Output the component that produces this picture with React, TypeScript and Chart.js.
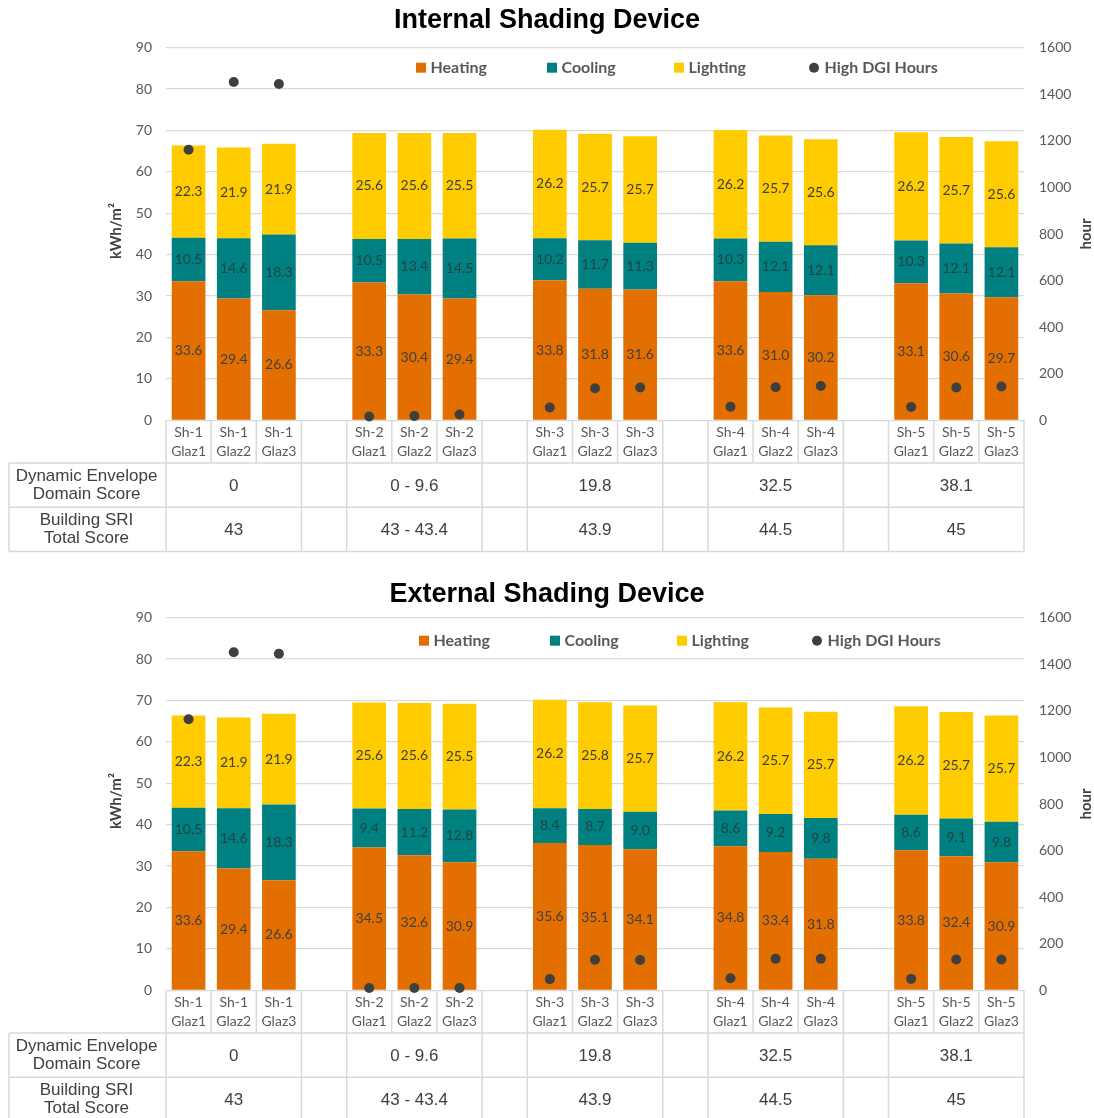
import React, { useEffect, useRef } from 'react';
import { Chart, registerables } from 'chart.js';

Chart.register(...registerables);

// ---------------- data ----------------
const shadings = ['Sh-1', 'Sh-2', 'Sh-3', 'Sh-4', 'Sh-5'];
const glazings = ['Glaz1', 'Glaz2', 'Glaz3'];
const seriesNames = ['Heating', 'Cooling', 'Lighting', 'High DGI Hours'];

const internalHeating = [33.6, 29.4, 26.6, 33.3, 30.4, 29.4, 33.8, 31.8, 31.6, 33.6, 31.0, 30.2, 33.1, 30.6, 29.7];
const internalCooling = [10.5, 14.6, 18.3, 10.5, 13.4, 14.5, 10.2, 11.7, 11.3, 10.3, 12.1, 12.1, 10.3, 12.1, 12.1];
const internalLighting = [22.3, 21.9, 21.9, 25.6, 25.6, 25.5, 26.2, 25.7, 25.7, 26.2, 25.7, 25.6, 26.2, 25.7, 25.6];
const internalDgiHours = [1162, 1453, 1444, 16, 19, 25, 55, 138, 141, 58, 142, 147, 57, 141, 145];

const externalHeating = [33.6, 29.4, 26.6, 34.5, 32.6, 30.9, 35.6, 35.1, 34.1, 34.8, 33.4, 31.8, 33.8, 32.4, 30.9];
const externalCooling = [10.5, 14.6, 18.3, 9.4, 11.2, 12.8, 8.4, 8.7, 9.0, 8.6, 9.2, 9.8, 8.6, 9.1, 9.8];
const externalLighting = [22.3, 21.9, 21.9, 25.6, 25.6, 25.5, 26.2, 25.8, 25.7, 26.2, 25.7, 25.7, 26.2, 25.7, 25.7];
const externalDgiHours = [1164, 1452, 1445, 10, 10, 10, 48, 131, 130, 52, 135, 135, 49, 132, 132];

const envelopeScores = ['0', '0 - 9.6', '19.8', '32.5', '38.1'];
const sriScores = ['43', '43 - 43.4', '43.9', '44.5', '45'];
const tableRowLabels = [
  ['Dynamic Envelope', 'Domain Score'],
  ['Building SRI', 'Total Score'],
];

const leftAxis = { title: 'kWh/m²', min: 0, max: 90, step: 10 };
const rightAxis = { title: 'hour', min: 0, max: 1600, step: 200 };

// ---------------- helpers ----------------
const labels: (string[] | string)[] = [];
shadings.forEach((s, g) => {
  glazings.forEach((gl) => labels.push([s, gl]));
  if (g < shadings.length - 1) labels.push('');
});

function withGaps(values: number[]): (number | null)[] {
  const out: (number | null)[] = [];
  values.forEach((v, i) => {
    out.push(v);
    if (i % 3 === 2 && i < values.length - 1) out.push(null);
  });
  return out;
}

const COLORS = {
  heating: '#E36F00',
  cooling: '#008080',
  lighting: '#FFCC00',
  dgi: '#3F3F3F',
  grid: '#D9D9D9',
  text: '#595959',
  dark: '#404040',
};
const UI_FONT = 'Lato, "Noto Sans", sans-serif';
const TABLE_FONT = '"Liberation Sans", Arial, sans-serif';

type PanelProps = {
  title: string;
  heating: number[];
  cooling: number[];
  lighting: number[];
  dgi: number[];
  legendDx: number;
  legendDy: number;
  titleTop: number;
};

function Panel({ title, heating, cooling, lighting, dgi, legendDx, legendDy, titleTop }: PanelProps) {
  const ref = useRef<HTMLCanvasElement>(null);

  useEffect(() => {
    const canvas = ref.current;
    if (!canvas) return;

    const labelColors = [COLORS.dark, 'rgba(45,45,45,0.72)', COLORS.dark];

    const extras = {
      id: 'panelExtras',
      afterDatasetsDraw(chart: any) {
        const ctx = chart.ctx;
        ctx.save();
        ctx.font = `14px ${UI_FONT}`;
        ctx.textAlign = 'center';
        ctx.textBaseline = 'middle';
        for (let d = 0; d < 3; d++) {
          const meta = chart.getDatasetMeta(d);
          const data = chart.data.datasets[d].data;
          meta.data.forEach((el: any, i: number) => {
            const v = data[i];
            if (v === null || v === undefined) return;
            const { x, y, base } = el.getProps(['x', 'y', 'base'], true);
            ctx.fillStyle = labelColors[d];
            ctx.fillText(Number(v).toFixed(1), x, (y + base) / 2);
          });
        }
        ctx.restore();
      },
      afterDraw(chart: any) {
        const ctx = chart.ctx;
        const area = chart.chartArea;
        const xs = chart.scales.x;
        const n = chart.data.labels.length;
        const cw = (area.right - area.left) / n;
        const edge = (k: number) => xs.getPixelForValue(0) - cw / 2 + k * cw;
        const midY = (area.top + area.bottom) / 2;

        ctx.save();
        // axis titles
        ctx.fillStyle = COLORS.dark;
        ctx.font = `bold 15px ${UI_FONT}`;
        ctx.textAlign = 'center';
        ctx.textBaseline = 'middle';
        ctx.save();
        ctx.translate(116, midY - 3);
        ctx.rotate(-Math.PI / 2);
        ctx.fillText(leftAxis.title, 0, 0);
        ctx.restore();
        ctx.save();
        ctx.translate(1086, midY);
        ctx.rotate(-Math.PI / 2);
        ctx.fillText(rightAxis.title, 0, 0);
        ctx.restore();

        // legend
        const legendX = [416, 547, 674, 809].map((v) => v + legendDx);
        const ly = area.top + legendDy;
        const legendColors = [COLORS.heating, COLORS.cooling, COLORS.lighting];
        ctx.font = `bold 16px ${UI_FONT}`;
        ctx.textAlign = 'left';
        ctx.textBaseline = 'middle';
        chart.data.datasets.forEach((ds: any, i: number) => {
          const x0 = legendX[i];
          if (i < 3) {
            ctx.fillStyle = legendColors[i];
            ctx.fillRect(x0, ly - 5, 10, 10);
            ctx.fillStyle = COLORS.text;
            ctx.fillText(ds.label, x0 + 14.5, ly + 0.5);
          } else {
            ctx.fillStyle = COLORS.dgi;
            ctx.beginPath();
            ctx.arc(x0 + 5, ly, 5, 0, Math.PI * 2);
            ctx.fill();
            ctx.fillStyle = COLORS.text;
            ctx.fillText(ds.label, x0 + 15.5, ly + 0.5);
          }
        });

        // category grid + table
        const catTop = area.bottom;
        const rowTop = catTop + 42.7;
        const rowH = 44.2;
        const tableLeft = 9;
        ctx.strokeStyle = COLORS.grid;
        ctx.lineWidth = 1.5;
        ctx.beginPath();
        for (let k = 0; k <= n; k++) {
          const x = edge(k);
          ctx.moveTo(x, catTop);
          ctx.lineTo(x, rowTop);
        }
        for (let r = 0; r <= 2; r++) {
          const y = rowTop + r * rowH;
          ctx.moveTo(tableLeft, y);
          ctx.lineTo(area.right, y);
        }
        const rowEdges = [0];
        for (let g = 0; g < shadings.length; g++) {
          rowEdges.push(g * 4 + 3);
          if (g < shadings.length - 1) rowEdges.push(g * 4 + 4);
        }
        const bottomY = rowTop + 2 * rowH;
        ctx.moveTo(tableLeft, rowTop);
        ctx.lineTo(tableLeft, bottomY);
        rowEdges.forEach((k) => {
          const x = edge(k);
          ctx.moveTo(x, rowTop);
          ctx.lineTo(x, bottomY);
        });
        ctx.stroke();

        // table text
        ctx.fillStyle = COLORS.dark;
        ctx.font = `17px ${TABLE_FONT}`;
        ctx.textAlign = 'center';
        ctx.textBaseline = 'middle';
        const rows = [envelopeScores, sriScores];
        rows.forEach((vals, r) => {
          const cy = rowTop + r * rowH + rowH / 2;
          const lbl = tableRowLabels[r];
          const lx = (tableLeft + edge(0)) / 2 - 1;
          ctx.fillText(lbl[0], lx, cy - 9);
          ctx.fillText(lbl[1], lx, cy + 9.5);
          vals.forEach((v, g) => {
            const cx = (edge(g * 4) + edge(g * 4 + 3)) / 2;
            ctx.fillText(v, cx, cy + 1.5);
          });
        });
        ctx.restore();
      },
    };

    const chart = new Chart(canvas, {
      type: 'bar',
      data: {
        labels,
        datasets: [
          {
            label: seriesNames[0],
            data: withGaps(heating),
            backgroundColor: COLORS.heating,
            yAxisID: 'y',
            order: 1,
          },
          {
            label: seriesNames[1],
            data: withGaps(cooling),
            backgroundColor: COLORS.cooling,
            yAxisID: 'y',
            order: 1,
          },
          {
            label: seriesNames[2],
            data: withGaps(lighting),
            backgroundColor: COLORS.lighting,
            yAxisID: 'y',
            order: 1,
          },
          {
            type: 'line',
            label: seriesNames[3],
            data: withGaps(dgi),
            yAxisID: 'y1',
            showLine: false,
            pointRadius: 5,
            pointHoverRadius: 5,
            pointBackgroundColor: COLORS.dgi,
            pointBorderWidth: 0,
            borderColor: COLORS.dgi,
            backgroundColor: COLORS.dgi,
            clip: false,
            order: 0,
          } as any,
        ] as any,
      },
      options: {
        animation: false,
        responsive: false,
        devicePixelRatio: 1,
        events: [],
        datasets: { bar: { barPercentage: 0.746, categoryPercentage: 1 } },
        layout: { padding: { top: 0, left: 0, right: 0, bottom: 107 } },
        plugins: {
          legend: { display: false },
          tooltip: { enabled: false },
          title: {
            display: true,
            text: title,
            color: '#000000',
            font: { family: TABLE_FONT, size: 27, weight: 'bold', lineHeight: 1.2 },
            padding: { top: titleTop, bottom: 15.3 - titleTop },
          },
        },
        scales: {
          x: {
            stacked: true,
            offset: true,
            grid: { display: false, drawTicks: false },
            border: { display: false },
            ticks: {
              autoSkip: false,
              maxRotation: 0,
              minRotation: 0,
              padding: 3,
              color: COLORS.text,
              font: { family: UI_FONT, size: 14, lineHeight: 1.33 },
            },
            afterFit: (s: any) => {
              s.height = 42.7;
            },
          },
          y: {
            stacked: true,
            position: 'left',
            min: leftAxis.min,
            max: leftAxis.max,
            grid: { color: COLORS.grid, lineWidth: 1.3, drawTicks: false },
            border: { display: false },
            ticks: {
              stepSize: leftAxis.step,
              padding: 14,
              color: COLORS.text,
              font: { family: UI_FONT, size: 14 },
              callback: (v: any) => String(v),
            },
            afterFit: (s: any) => {
              s.width = 166;
            },
          },
          y1: {
            stacked: false,
            position: 'right',
            min: rightAxis.min,
            max: rightAxis.max,
            grid: { display: false, drawTicks: false },
            border: { display: false },
            ticks: {
              stepSize: rightAxis.step,
              padding: 15,
              color: COLORS.text,
              font: { family: UI_FONT, size: 14 },
              callback: (v: any) => String(v),
            },
            afterFit: (s: any) => {
              s.width = 70;
            },
          },
        },
      } as any,
      plugins: [extras],
    });

    return () => chart.destroy();
  }, []);

  return <canvas ref={ref} width={1094} height={570} style={{ display: 'block', width: 1094, height: 570 }} />;
}

export default function App() {
  return (
    <div style={{ position: 'absolute', left: 0, top: 0, width: 1094, background: '#ffffff' }}>
      <Panel
        title="Internal Shading Device"
        heating={internalHeating}
        cooling={internalCooling}
        lighting={internalLighting}
        dgi={internalDgiHours}
        legendDx={0}
        legendDy={20}
        titleTop={4}
      />
      <Panel
        title="External Shading Device"
        heating={externalHeating}
        cooling={externalCooling}
        lighting={externalLighting}
        dgi={externalDgiHours}
        legendDx={3}
        legendDy={23}
        titleTop={8}
      />
    </div>
  );
}
